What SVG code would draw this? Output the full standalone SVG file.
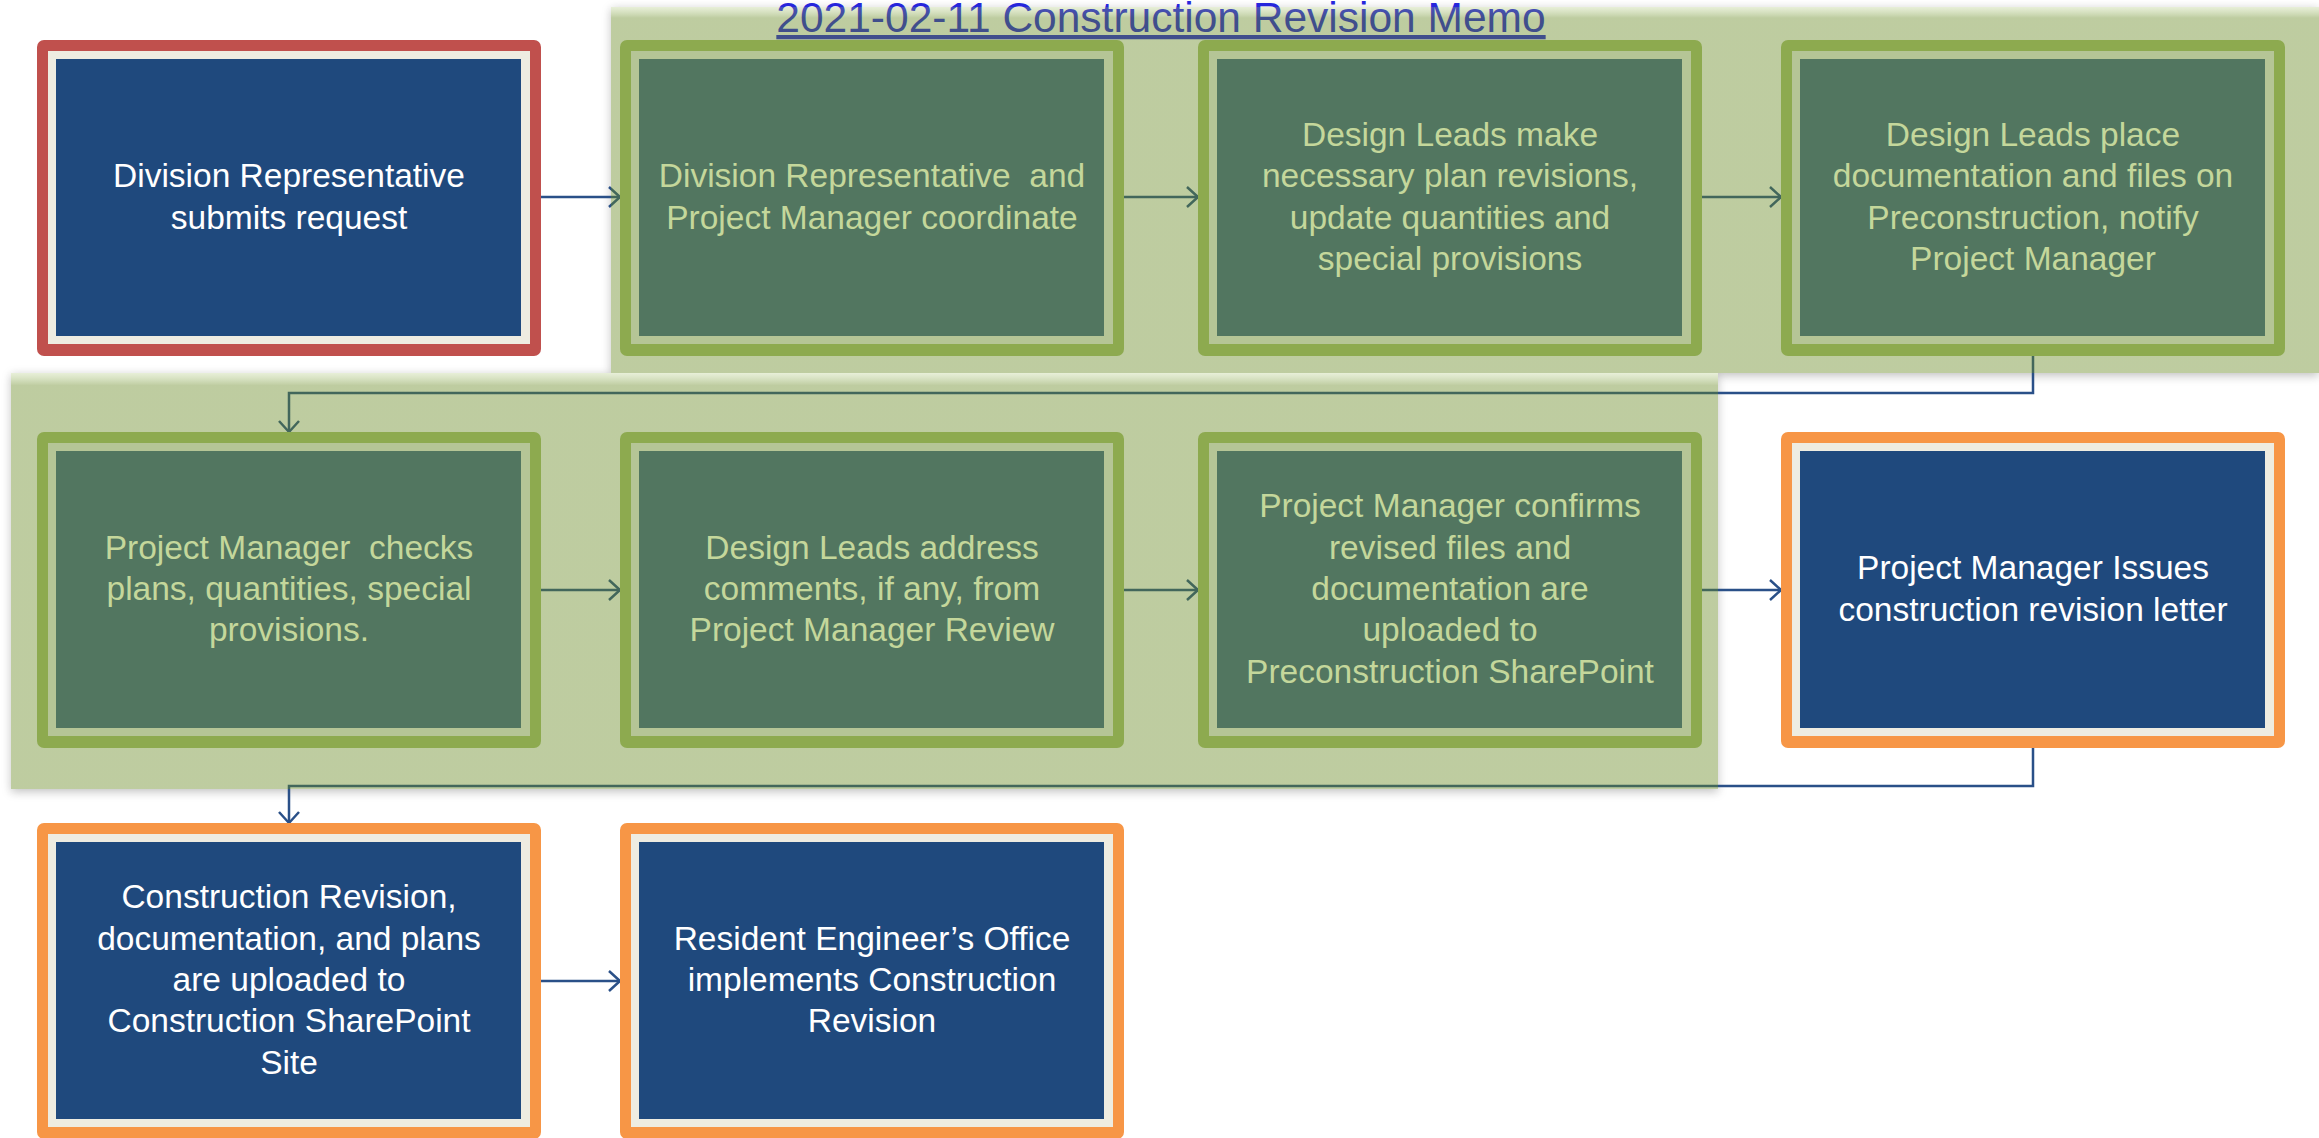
<svg xmlns="http://www.w3.org/2000/svg" width="2319" height="1138" viewBox="0 0 2319 1138">
  <defs>
    <filter id="blur" x="-5%" y="-5%" width="110%" height="115%">
      <feGaussianBlur stdDeviation="5"/>
    </filter>
    <linearGradient id="bgGrad" x1="0" y1="0" x2="0" y2="1">
      <stop offset="0" stop-color="rgb(160,190,100)" stop-opacity="0.25"/>
      <stop offset="0.03" stop-color="rgb(100,134,29)" stop-opacity="0.42"/>
      <stop offset="1" stop-color="rgb(100,134,29)" stop-opacity="0.42"/>
    </linearGradient>
    <marker id="arrow" markerUnits="userSpaceOnUse" markerWidth="16" markerHeight="24" refX="12" refY="11" orient="auto">
      <path d="M1,1 L12,11 L1,21" fill="none" stroke="context-stroke" stroke-width="2.5"/>
    </marker>
    <style>
      .outer-red { fill: #C0504D; }
      .outer-orange { fill: #F79646; }
      .outer-green { fill: #8DAA4F; }
      .band-cream { fill: #EEECE1; }
      .band-green { fill: #B5C596; }
      .fill-blue { fill: #1F497D; }
      .fill-green { fill: #527660; }
      .txt { font-family: "Liberation Sans", Arial, sans-serif; font-size: 33.5px; text-anchor: middle; white-space: pre; }
      .txt-white { fill: #FFFFFF; }
      .txt-green { fill: #C4D79B; }
      .conn { fill: none; stroke: #2A5088; stroke-width: 2.5; }
      .title { font-family: "Liberation Sans", Arial, sans-serif; font-size: 42.5px; fill: #2626DC; text-anchor: middle; text-decoration: underline; }
    </style>
  </defs>

  <rect x="0" y="0" width="2319" height="1138" fill="#FFFFFF"/>

  <!-- background shadows -->
  <g id="bg-shadows" opacity="0.35" filter="url(#blur)">
    <rect x="611" y="9" width="1708" height="367" fill="#555"/>
    <rect x="11" y="375" width="1707" height="417" fill="#555"/>
  </g>
  <g id="bg-cover" fill="#FFFFFF">
    <rect x="611" y="7" width="1708" height="366"/>
    <rect x="11" y="373" width="1707" height="416"/>
  </g>

  <!-- title -->
  <text id="title" class="title" x="1161" y="32">2021-02-11 Construction Revision Memo</text>

  <!-- connectors -->
  <g id="connectors">
    <path class="conn" d="M541 197 H620" marker-end="url(#arrow)"/>
    <path class="conn" d="M1124 197 H1198" marker-end="url(#arrow)"/>
    <path class="conn" d="M1702 197 H1781" marker-end="url(#arrow)"/>
    <path class="conn" d="M2033 356 V393 H289 V432" marker-end="url(#arrow)"/>
    <path class="conn" d="M541 590 H620" marker-end="url(#arrow)"/>
    <path class="conn" d="M1124 590 H1198" marker-end="url(#arrow)"/>
    <path class="conn" d="M1702 590 H1781" marker-end="url(#arrow)"/>
    <path class="conn" d="M2033 748 V786 H289 V823" marker-end="url(#arrow)"/>
    <path class="conn" d="M541 981 H620" marker-end="url(#arrow)"/>
  </g>

  <!-- group backgrounds (semi-transparent) -->
  <g id="backgrounds">
    <rect id="bg-upper" x="611" y="7" width="1708" height="366" fill="url(#bgGrad)"/>
    <rect id="bg-lower" x="11" y="373" width="1707" height="416" fill="url(#bgGrad)"/>
  </g>

  <!-- nodes -->
  <g id="node1">
    <rect class="outer-red" x="37" y="40" width="504" height="316" rx="7"/>
    <rect class="band-cream" x="48" y="51" width="482" height="293"/>
    <rect class="fill-blue" x="56" y="59" width="465" height="277"/>
    <text class="txt txt-white"><tspan x="289" y="187.4">Division Representative</tspan><tspan x="289" y="228.7">submits request</tspan></text>
  </g>

  <g id="node2">
    <rect class="outer-green" x="620" y="40" width="504" height="316" rx="7"/>
    <rect class="band-green" x="631" y="51" width="482" height="293"/>
    <rect class="fill-green" x="639" y="59" width="465" height="277"/>
    <text class="txt txt-green" xml:space="preserve"><tspan x="872" y="187.4">Division Representative  and</tspan><tspan x="872" y="228.7">Project Manager coordinate</tspan></text>
  </g>

  <g id="node3">
    <rect class="outer-green" x="1198" y="40" width="504" height="316" rx="7"/>
    <rect class="band-green" x="1209" y="51" width="482" height="293"/>
    <rect class="fill-green" x="1217" y="59" width="465" height="277"/>
    <text class="txt txt-green"><tspan x="1450" y="146">Design Leads make</tspan><tspan x="1450" y="187.4">necessary plan revisions,</tspan><tspan x="1450" y="228.7">update quantities and</tspan><tspan x="1450" y="270">special provisions</tspan></text>
  </g>

  <g id="node4">
    <rect class="outer-green" x="1781" y="40" width="504" height="316" rx="7"/>
    <rect class="band-green" x="1792" y="51" width="482" height="293"/>
    <rect class="fill-green" x="1800" y="59" width="465" height="277"/>
    <text class="txt txt-green"><tspan x="2033" y="146">Design Leads place</tspan><tspan x="2033" y="187.4">documentation and files on</tspan><tspan x="2033" y="228.7">Preconstruction, notify</tspan><tspan x="2033" y="270">Project Manager</tspan></text>
  </g>

  <g id="node5">
    <rect class="outer-green" x="37" y="432" width="504" height="316" rx="7"/>
    <rect class="band-green" x="48" y="443" width="482" height="293"/>
    <rect class="fill-green" x="56" y="451" width="465" height="277"/>
    <text class="txt txt-green" xml:space="preserve"><tspan x="289" y="558.7">Project Manager  checks</tspan><tspan x="289" y="600">plans, quantities, special</tspan><tspan x="289" y="641.3">provisions.</tspan></text>
  </g>

  <g id="node6">
    <rect class="outer-green" x="620" y="432" width="504" height="316" rx="7"/>
    <rect class="band-green" x="631" y="443" width="482" height="293"/>
    <rect class="fill-green" x="639" y="451" width="465" height="277"/>
    <text class="txt txt-green"><tspan x="872" y="558.7">Design Leads address</tspan><tspan x="872" y="600">comments, if any, from</tspan><tspan x="872" y="641.3">Project Manager Review</tspan></text>
  </g>

  <g id="node7">
    <rect class="outer-green" x="1198" y="432" width="504" height="316" rx="7"/>
    <rect class="band-green" x="1209" y="443" width="482" height="293"/>
    <rect class="fill-green" x="1217" y="451" width="465" height="277"/>
    <text class="txt txt-green"><tspan x="1450" y="517.4">Project Manager confirms</tspan><tspan x="1450" y="558.7">revised files and</tspan><tspan x="1450" y="600">documentation are</tspan><tspan x="1450" y="641.3">uploaded to</tspan><tspan x="1450" y="682.6">Preconstruction SharePoint</tspan></text>
  </g>

  <g id="node8">
    <rect class="outer-orange" x="1781" y="432" width="504" height="316" rx="7"/>
    <rect class="band-cream" x="1792" y="443" width="482" height="293"/>
    <rect class="fill-blue" x="1800" y="451" width="465" height="277"/>
    <text class="txt txt-white"><tspan x="2033" y="579.4">Project Manager Issues</tspan><tspan x="2033" y="620.7">construction revision letter</tspan></text>
  </g>

  <g id="node9">
    <rect class="outer-orange" x="37" y="823" width="504" height="316" rx="7"/>
    <rect class="band-cream" x="48" y="834" width="482" height="293"/>
    <rect class="fill-blue" x="56" y="842" width="465" height="277"/>
    <text class="txt txt-white"><tspan x="289" y="908.4">Construction Revision,</tspan><tspan x="289" y="949.7">documentation, and plans</tspan><tspan x="289" y="991">are uploaded to</tspan><tspan x="289" y="1032.3">Construction SharePoint</tspan><tspan x="289" y="1073.6">Site</tspan></text>
  </g>

  <g id="node10">
    <rect class="outer-orange" x="620" y="823" width="504" height="316" rx="7"/>
    <rect class="band-cream" x="631" y="834" width="482" height="293"/>
    <rect class="fill-blue" x="639" y="842" width="465" height="277"/>
    <text class="txt txt-white"><tspan x="872" y="949.7">Resident Engineer’s Office</tspan><tspan x="872" y="991">implements Construction</tspan><tspan x="872" y="1032.3">Revision</tspan></text>
  </g>
</svg>
